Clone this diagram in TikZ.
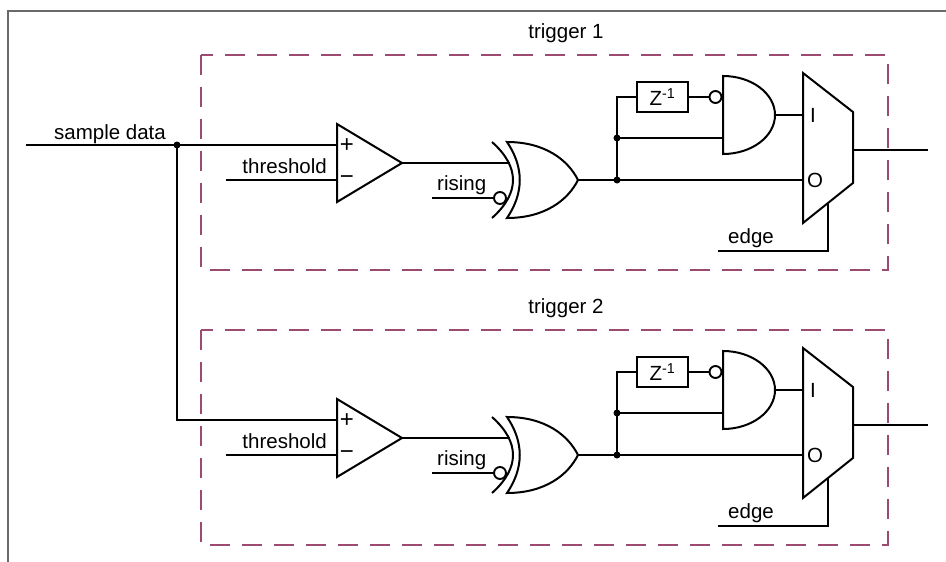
\documentclass[tikz,border=0pt]{standalone}
\usepackage{fontspec}
\setmainfont{Liberation Sans}
\definecolor{trigc}{RGB}{155,75,112}
\definecolor{framec}{RGB}{105,105,105}
\tikzset{
  wire/.style={draw=black, line width=2pt},
  gate/.style={draw=black, line width=2pt, line join=miter},
  lbl/.style={inner sep=0pt, font=\fontsize{20.5}{24}\selectfont},
  signlbl/.style={inner sep=0pt, font=\fontsize{24}{28}\selectfont},
  trigbox/.style={draw=trigc, line width=2.1pt, dash pattern=on 20pt off 12pt},
  bubble/.style={circle, draw=black, line width=1.9pt, minimum size=12pt, inner sep=0pt},
  zbox/.style={draw=black, line width=1.9pt, minimum width=51pt, minimum height=30pt, inner sep=0pt, font=\fontsize{20.5}{24}\selectfont},
  framestyle/.style={draw=framec, line width=2pt},
  trigger/.pic={
    \draw[trigbox] (201,55) rectangle (888,270);
    \node[lbl, anchor=base] (-title) at (566,38) {trigger #1};
    % comparator
    \draw[gate] (337,124) -- (402,163) -- (337,202) -- cycle;
    \coordinate (-p) at (337,145);
    \coordinate (-m) at (337,180);
    \coordinate (-co) at (402,163);
    \node[signlbl] (-plus) at (347,146) {+};
    \node[signlbl] (-minus) at (347,180) {−};
    \coordinate (-thr) at (226,180);
    \draw[wire] (-thr) -- (-m);
    \node[lbl, anchor=base east] (-thrl) at (327,173) {threshold};
    % xor gate
    \draw[gate] (492,142) .. controls (520,167) and (520,193) .. (492,218);
    \draw[gate] (507,142) .. controls (524,167) and (524,193) .. (507,218)
       .. controls (545,218) and (568,200) .. (578,180)
       .. controls (568,160) and (545,142) .. (507,142) -- cycle;
    \coordinate (-xa) at (510,163);
    \coordinate (-xo) at (578,180);
    \node[bubble] (-rb) at (500,198) {};
    \coordinate (-ris) at (432,198);
    \draw[wire] (-co) -- (-xa);
    \draw[wire] (-ris) -- (-rb.west);
    \node[lbl, anchor=base west] (-risl) at (437,190) {rising};
    % delay and and-gate
    \node[zbox] (-z) at (662.5,97) {Z\textsuperscript{-1}};
    \node[bubble] (-ab) at (715.5,97) {};
    \draw[gate] (723,76) .. controls (751.7,76) and (775,93.5) .. (775,115)
       .. controls (775,136.5) and (751.7,154) .. (723,154) -- cycle;
    \coordinate (-ai) at (723,138);
    \coordinate (-ao) at (775,115);
    % mux
    \draw[gate] (803,73) -- (853,112) -- (853,183) -- (803,223) -- cycle;
    \coordinate (-m1) at (803,115);
    \coordinate (-m0) at (803,180);
    \coordinate (-mo) at (853,150);
    \coordinate (-out) at (928,150);
    \coordinate (-sel) at (828,203);
    \coordinate (-edge) at (718,251);
    \node[lbl] (-il) at (813,115) {I};
    \node[lbl] (-ol) at (815,180) {O};
    % wires
    \coordinate (-j1) at (617,180);
    \coordinate (-j2) at (617,138);
    \draw[wire] (-xo) -- (-m0);
    \draw[wire] (-j1) |- (-z.west);
    \draw[wire] (-j2) -- (-ai);
    \draw[wire] (-z.east) -- (-ab.west);
    \draw[wire] (-ao) -- (-m1);
    \draw[wire] (-mo) -- (-out);
    \draw[wire] (-sel) |- (-edge);
    \fill (-j1) circle (3.5);
    \fill (-j2) circle (3.5);
    \node[lbl, anchor=base west] (-edgel) at (728,243) {edge};
  }
}
\begin{document}
\begin{tikzpicture}[x=1pt,y=-1pt]
  \useasboundingbox (0,0) rectangle (946,562);
  \fill[white] (0,0) rectangle (946,562);
  \draw[framestyle] (8,562) -- (8,11) -- (946,11);
  \coordinate (sd) at (26,145);
  \coordinate (jn) at (177,145);
  \pic (t1) at (0,0) {trigger=1};
  \pic (t2) at (0,275) {trigger=2};
  \draw[wire] (sd) -- (t1-p);
  \draw[wire] (jn) |- (t2-p);
  \fill (jn) circle (3.5);
  \node[lbl, anchor=base west] (sdl) at (54,139) {sample data};
\end{tikzpicture}
\end{document}
